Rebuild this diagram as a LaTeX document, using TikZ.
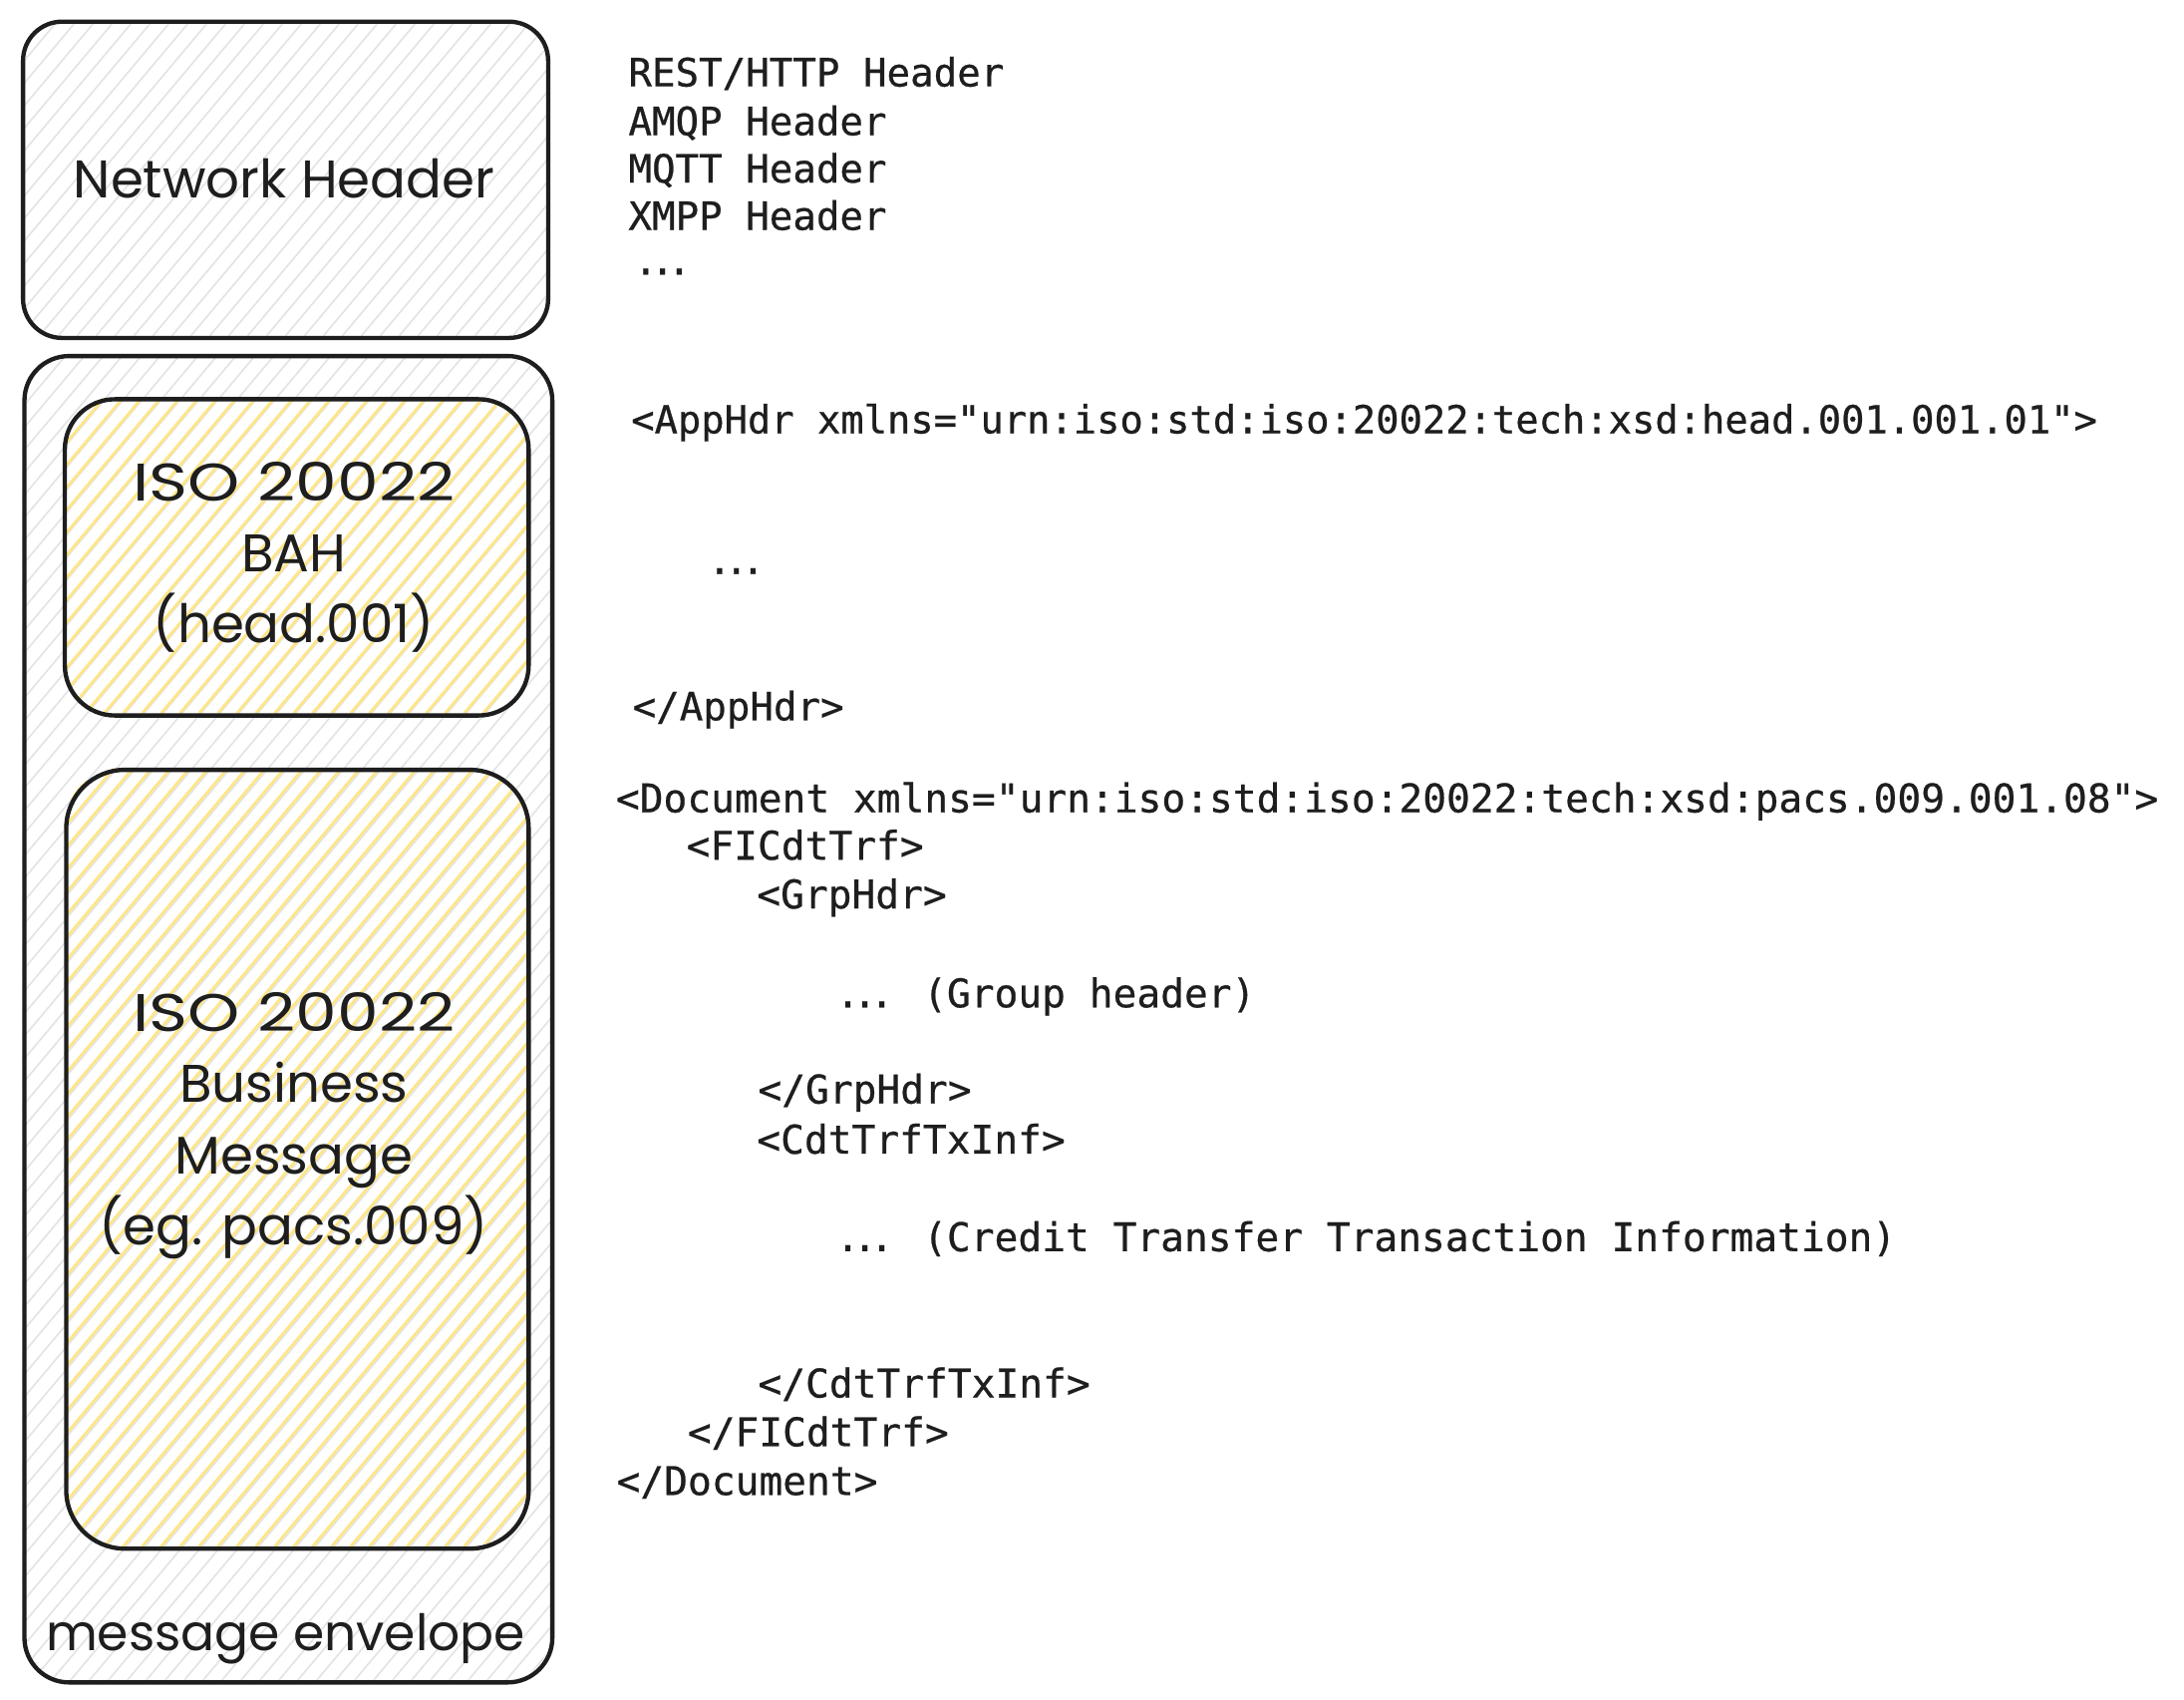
\documentclass[tikz,border=0pt]{standalone}
\usepackage{fontspec}
\newfontfamily\handfont{Poppins}
\newfontfamily\codefont[FakeBold=0.6]{DejaVu Sans Mono}
\definecolor{ink}{HTML}{1E1E1E}
\definecolor{hatchgray}{HTML}{E1E5E9}
\definecolor{hatchyellow}{HTML}{FFE586}
\newcommand{\tdots}{.\kern-4.86pt.\kern-4.86pt.\kern9.72pt}
\newcommand{\tdotsb}{.\kern-4.86pt.\kern-4.86pt.\kern-1.5pt}
\newcommand{\hatchfill}[7]{%
  \begin{scope}
    \clip[rounded corners=#5] (#1,#2) rectangle (#3,#4);
    \pgfmathsetmacro{\hh}{(#4-#2)/1.19}
    \pgfmathsetmacro{\vv}{#2-#4}
    \pgfmathtruncatemacro{\nn}{(#3-#1+\hh)/13.6+2}
    \foreach \k in {0,...,\nn}{
      \pgfmathsetmacro{\xs}{#1-\hh+#7+\k*13.6}
      \draw[#6] (\xs,#4) -- ++(\hh,\vv);
    }
  \end{scope}}
\tikzset{
  boxline/.style={draw=ink, line width=3.1pt, rounded corners=#1},
  grayhatch/.style={draw=hatchgray, line width=1.2pt},
  yellowhatch/.style={draw=hatchyellow, line width=2pt},
  codetext/.style={anchor=base west, inner sep=0pt, text=ink,
    font=\codefont\fontsize{28}{34}\selectfont},
  doctext/.style={codetext, font=\codefont\fontsize{28.3}{34}\selectfont},
  apptext/.style={codetext, font=\codefont\fontsize{27.75}{34}\selectfont},
  handtext/.style={align=center, inner sep=0pt, text=ink,
    font=\handfont\fontsize{38}{51}\selectfont},
}
\begin{document}
\begin{tikzpicture}[x=1pt,y=-1pt]
\useasboundingbox[fill=white] (0,0) rectangle (1568,1220);

% hatching
\hatchfill{15}{14}{392}{241}{28pt}{grayhatch}{0}
\hatchfill{16}{254}{395}{1206}{32pt}{grayhatch}{5}
\hatchfill{45}{285}{378}{512}{36pt}{yellowhatch}{3}
\hatchfill{46}{551}{378}{1110}{42pt}{yellowhatch}{9}

% boxes
\node[boxline=28pt, minimum width=377pt, minimum height=227pt, anchor=north west] (nh) at (15,14) {};
\node[boxline=32pt, minimum width=379pt, minimum height=952pt, anchor=north west] (env) at (16,254) {};
\node[boxline=36pt, minimum width=333pt, minimum height=227pt, anchor=north west] (bah) at (45,285) {};
\node[boxline=42pt, minimum width=332pt, minimum height=559pt, anchor=north west] (biz) at (46,551) {};

% handwritten labels
\node[handtext] (nht) at (204,128) {Network Header};
\node[handtext] (baht) at (211,400) {\scalebox{1.25}[1]{ISO 20022}\\BAH\\(head.001)};
\node[handtext] (bizt) at (211,808) {\scalebox{1.25}[1]{ISO 20022}\\Business\\Message\\(eg. pacs.009)};
\node[handtext, font=\handfont\fontsize{36}{50}\selectfont] (envt) at (205,1176) {message envelope};

% code text
\node[codetext] (l1) at (451,62) {REST/HTTP Header};
\node[codetext] (l2) at (451,97) {AMQP Header};
\node[codetext] (l3) at (451,131) {MQTT Header};
\node[codetext] (l4) at (451,165) {XMPP Header};
\node[codetext] (l5) at (455,197) {\tdots};
\node[apptext] (a1) at (453,311) {<AppHdr xmlns="urn:iso:std:iso:20022:tech:xsd:head.001.001.01">};
\node[codetext] (a2) at (508,412) {\tdots};
\node[codetext] (a3) at (454,517) {</AppHdr>};
\node[doctext] (d1) at (442,583) {<Document xmlns="urn:iso:std:iso:20022:tech:xsd:pacs.009.001.08">};
\node[doctext] (d2) at (492.6,617) {<FICdtTrf>};
\node[doctext] (d3) at (543.2,652) {<GrpHdr>};
\node[doctext] (d4) at (600,723) {\tdotsb{} (Group header)};
\node[doctext] (d5) at (544,792) {</GrpHdr>};
\node[doctext] (d6) at (543.2,828) {<CdtTrfTxInf>};
\node[doctext] (d7) at (600,898) {\tdotsb{} (Credit Transfer Transaction Information)};
\node[doctext] (d8) at (544,1003) {</CdtTrfTxInf>};
\node[doctext] (d9) at (493.5,1038) {</FICdtTrf>};
\node[doctext] (d10) at (442.5,1073) {</Document>};
\end{tikzpicture}
\end{document}
